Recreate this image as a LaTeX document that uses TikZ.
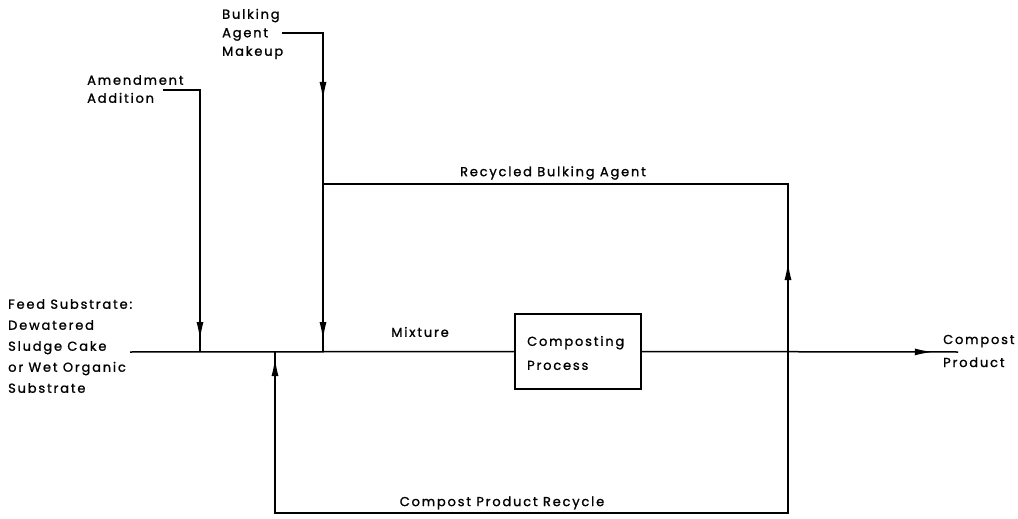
\documentclass[tikz,border=0pt]{standalone}
\usepackage{fontspec}
\setmainfont[LetterSpace=14,FakeBold=1.2]{Poppins}
\usetikzlibrary{arrows.meta,decorations.markings}
\begin{document}
\begin{tikzpicture}[x=1pt,y=-1pt,
  line/.style={line width=1.5pt},
  lbl/.style={font=\fontsize{13}{#1}\selectfont, inner sep=0pt, align=left},
  lbl/.default=19,
  arr/.style={postaction={decorate},decoration={markings,mark=at position #1 with {\arrow{Latex[length=18pt,width=7pt]}}}},
  arrtwo/.style n args={2}{postaction={decorate},decoration={markings,
      mark=at position #1 with {\arrow{Latex[length=18pt,width=7pt]}},
      mark=at position #2 with {\arrow{Latex[length=18pt,width=7pt]}}}},
  procbox/.style={draw, line width=1.5pt, minimum width=126pt, minimum height=75pt, inner sep=0pt}]
\useasboundingbox (0,0) rectangle (1018,519);

% text nodes
\node[lbl=21, anchor=west] (feed) at (8,346) {Feed Substrate:\\Dewatered\\Sludge Cake\\or Wet Organic\\Substrate};
\node[lbl=18, anchor=west] (amend) at (87,89) {Amendment\\Addition};
\node[lbl=18.5, anchor=west] (bulk) at (222,34) {Bulking\\Agent\\Makeup};
\node[procbox] (proc) at (578,351.5) {};
\node[lbl=24, anchor=west] (proctext) at (527,353) {Composting\\Process};
\node[lbl=23, anchor=west] (prod) at (943,351) {Compost\\Product};
\node[lbl] (mix) at (420,332) {Mixture};
\node[lbl] (rba) at (553,173) {Recycled Bulking Agent};
\node[lbl] (cpr) at (502,503) {Compost Product Recycle};

% coordinates
\coordinate (fs) at (130,352);
\coordinate (a0) at (163,90);
\coordinate (a1) at (200,90);
\coordinate (j1) at (200,352);
\coordinate (b0) at (282,33);
\coordinate (b1) at (323,33);
\coordinate (j3) at (323,352);
\coordinate (rb) at (323,184);
\coordinate (rt) at (788,184);
\coordinate (j4) at (788,352);
\coordinate (br) at (788,513);
\coordinate (bl) at (275,513);
\coordinate (j2) at (275,352);
\coordinate (out) at (958,352);

% connectors
\draw[line] (fs) -- (proc.west);
\draw[line, arr=287pt] (a0) -- (a1) -- (j1);
\draw[line, arrtwo={108pt}{348pt}] (b0) -- (b1) -- (j3);
\draw[line, arr=90pt] (j4) -- (rt) -- (rb);
\draw[line, arr=829pt] (j4) -- (br) -- (bl) -- (j2);
\draw[line, arr=291pt] (proc.east) -- (out);
\end{tikzpicture}
\end{document}
